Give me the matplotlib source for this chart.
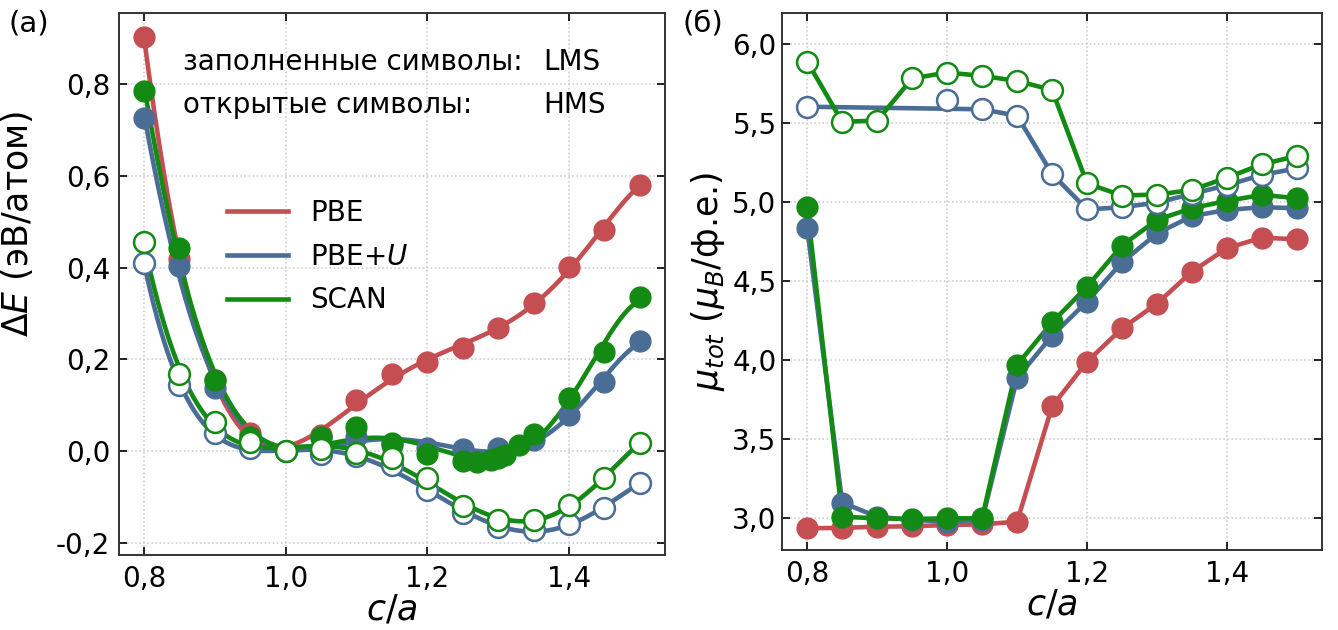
import numpy as np
import matplotlib
matplotlib.use("Agg")
import matplotlib.pyplot as plt
from matplotlib.ticker import FuncFormatter
from matplotlib.lines import Line2D

plt.rcParams['font.family'] = ['DejaVu Sans']
plt.rcParams['axes.unicode_minus'] = False
plt.rcParams['mathtext.fontset'] = 'dejavusans'

RED = '#C44E52'
BLUE = '#4A6D96'
GREEN = '#138A13'

# c/a grid used by most series
ca = [0.80, 0.85, 0.90, 0.95, 1.00, 1.05, 1.10, 1.15, 1.20, 1.25, 1.30, 1.35, 1.40, 1.45, 1.50]

# (a) energy relative to c/a = 1, eV/atom
dE_pbe_lms = [0.904, 0.418, 0.155, 0.040, 0.000, 0.034, 0.112, 0.168, 0.194, 0.225, 0.268, 0.322, 0.402, 0.483, 0.581]
dE_pbeu_lms = [0.727, 0.404, 0.138, 0.030, 0.000, 0.031, 0.030, 0.012, 0.006, 0.004, 0.006, 0.024, 0.079, 0.150, 0.240]
ca_scan_lms = [0.80, 0.85, 0.90, 0.95, 1.00, 1.05, 1.10, 1.15, 1.20, 1.25, 1.27, 1.29, 1.30, 1.31, 1.33, 1.35,
               1.40, 1.45, 1.50]
dE_scan_lms = [0.786, 0.443, 0.155, 0.030, 0.000, 0.030, 0.052, 0.018, -0.007, -0.021, -0.023, -0.020, -0.016,
               -0.009, 0.012, 0.036, 0.115, 0.215, 0.335]
dE_pbeu_hms = [0.411, 0.144, 0.039, 0.006, 0.000, -0.006, -0.012, -0.031, -0.085, -0.135, -0.166, -0.172, -0.159,
               -0.124, -0.070]
dE_scan_hms = [0.456, 0.168, 0.064, 0.020, 0.000, 0.005, -0.004, -0.016, -0.060, -0.120, -0.151, -0.150, -0.118,
               -0.058, 0.017]

# (б) total moment, mu_B per formula unit
mu_pbe_lms = [2.937, 2.940, 2.947, 2.950, 2.958, 2.962, 2.979, 3.707, 3.990, 4.200, 4.357, 4.559, 4.707, 4.774, 4.763]
mu_pbeu_lms = [4.833, 3.100, 3.010, 2.990, 2.980, 2.990, 3.886, 4.154, 4.370, 4.618, 4.800, 4.910, 4.949, 4.966, 4.960]
mu_scan_lms = [4.966, 3.010, 3.000, 2.996, 3.000, 3.000, 3.970, 4.238, 4.464, 4.724, 4.886, 4.960, 5.006, 5.044, 5.023]
mu_scan_hms = [5.886, 5.506, 5.513, 5.780, 5.817, 5.796, 5.764, 5.707, 5.116, 5.040, 5.046, 5.075, 5.153, 5.237, 5.290]
ca_pbeu_hms = [0.80, 1.00, 1.05, 1.10, 1.15, 1.20, 1.25, 1.30, 1.35, 1.40, 1.45, 1.50]
mu_pbeu_hms = [5.601, 5.644, 5.585, 5.544, 5.176, 4.952, 4.966, 4.995, 5.050, 5.105, 5.170, 5.212]
pbeu_hms_on_line = [True, False, True, True, True, True, True, True, True, True, True, True]

MS = 15
LW = 3.3


def comma(v, pos):
    return f"{v:.1f}".replace('.', ',')


def fit_curve(ax, x, y, color, deg=6):
    p = np.polynomial.Polynomial.fit(x, y, deg)
    xs = np.linspace(min(x), max(x), 300)
    ax.plot(xs, p(xs), color=color, lw=LW, zorder=2)


def filled(ax, x, y, color, z=3):
    ax.plot(x, y, 'o', ms=MS, color=color, mec=color, zorder=z)


def hollow(ax, x, y, color, z=4):
    ax.plot(x, y, 'o', ms=MS, mfc='white', mec=color, mew=1.8, zorder=z)


def style(ax, ypad):
    ax.tick_params(direction='in', top=True, right=True, length=6, width=1.2, labelsize=20)
    ax.tick_params(axis='x', pad=7)
    ax.tick_params(axis='y', pad=ypad)
    ax.grid(True, ls=':', color='#c8c8c8', lw=1.1)
    for s in ax.spines.values():
        s.set_color('#333333')
        s.set_linewidth(1.4)
    ax.xaxis.set_major_formatter(FuncFormatter(comma))
    ax.yaxis.set_major_formatter(FuncFormatter(comma))
    ax.set_xticks([0.8, 1.0, 1.2, 1.4])
    ax.set_xlim(0.764, 1.536)
    ax.set_xlabel(r'$c/a$', fontsize=25, labelpad=0)


fig = plt.figure(figsize=(13.38, 6.30), dpi=100)
ax1 = fig.add_axes([0.0886, 0.1190, 0.4086, 0.8608])
ax2 = fig.add_axes([0.5845, 0.1270, 0.4036, 0.8528])

# ---- (a) energy curves ----
fit_curve(ax1, ca, dE_pbe_lms, RED)
fit_curve(ax1, ca, dE_pbeu_lms, BLUE)
fit_curve(ax1, ca_scan_lms, dE_scan_lms, GREEN)
fit_curve(ax1, ca, dE_pbeu_hms, BLUE)
fit_curve(ax1, ca, dE_scan_hms, GREEN)
filled(ax1, ca, dE_pbe_lms, RED)
filled(ax1, ca, dE_pbeu_lms, BLUE)
filled(ax1, ca_scan_lms, dE_scan_lms, GREEN)
hollow(ax1, ca, dE_pbeu_hms, BLUE)
hollow(ax1, ca, dE_scan_hms, GREEN, z=5)

style(ax1, 6)
ax1.set_ylim(-0.227, 0.956)
ax1.set_yticks([-0.2, 0.0, 0.2, 0.4, 0.6, 0.8])
ax1.set_ylabel(r'$\Delta E$ (эВ/атом)', fontsize=25, labelpad=14)
ax1.yaxis.set_label_coords(-0.152, 0.61)

ax1.text(0.118, 0.909, 'заполненные символы:', transform=ax1.transAxes, fontsize=20, va='center')
ax1.text(0.118, 0.830, 'открытые символы:', transform=ax1.transAxes, fontsize=20, va='center')
ax1.text(0.776, 0.909, 'LMS', transform=ax1.transAxes, fontsize=20, va='center')
ax1.text(0.776, 0.830, 'HMS', transform=ax1.transAxes, fontsize=20, va='center')

handles = [Line2D([], [], color=RED, lw=LW), Line2D([], [], color=BLUE, lw=LW),
           Line2D([], [], color=GREEN, lw=LW)]
ax1.legend(handles, ['PBE', r'PBE+$U$', 'SCAN'], loc='upper left', bbox_to_anchor=(0.198, 0.657),
           frameon=False, fontsize=20, handlelength=2.2, handletextpad=0.8, labelspacing=0.57,
           borderpad=0, borderaxespad=0)

# ---- (б) magnetic moment ----
ax2.plot(ca, mu_pbe_lms, '-', color=RED, lw=LW, zorder=2)
ax2.plot(ca, mu_pbeu_lms, '-', color=BLUE, lw=LW, zorder=2)
ax2.plot(ca, mu_scan_lms, '-', color=GREEN, lw=LW, zorder=2)
xl = [x for x, k in zip(ca_pbeu_hms, pbeu_hms_on_line) if k]
yl = [y for y, k in zip(mu_pbeu_hms, pbeu_hms_on_line) if k]
ax2.plot(xl, yl, '-', color=BLUE, lw=LW, zorder=2)
ax2.plot(ca, mu_scan_hms, '-', color=GREEN, lw=LW, zorder=2)
filled(ax2, ca, mu_pbe_lms, RED)
filled(ax2, ca, mu_pbeu_lms, BLUE)
filled(ax2, ca, mu_scan_lms, GREEN)
hollow(ax2, ca_pbeu_hms, mu_pbeu_hms, BLUE)
hollow(ax2, ca, mu_scan_hms, GREEN, z=5)

style(ax2, 4)
ax2.set_ylim(2.80, 6.195)
ax2.set_yticks([3.0, 3.5, 4.0, 4.5, 5.0, 5.5, 6.0])
ax2.set_ylabel(r'$\mu_{tot}$ ($\mu_B$/ф.е.)', fontsize=25, labelpad=4)

fig.text(0.006, 0.962, '(a)', fontsize=21, va='center')
fig.text(0.510, 0.962, '(б)', fontsize=21, va='center')

fig.savefig('out.png', dpi=100)
